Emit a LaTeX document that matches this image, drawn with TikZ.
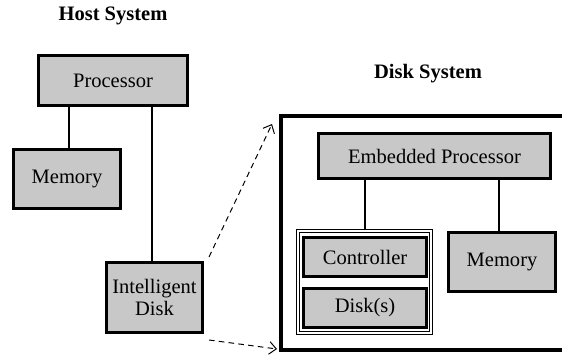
\documentclass[tikz,border=0pt]{standalone}
\usepackage{fontspec}
\setmainfont{Liberation Serif}
\usepackage{tikz}
\usetikzlibrary{arrows.meta}

\definecolor{boxgray}{RGB}{200,200,200}
\tikzset{
  box/.style={draw, line width=2pt, fill=boxgray, inner sep=0pt, align=center,
    font=\fontsize{14.6}{17}\selectfont},
  title/.style={font=\fontsize{14.6}{17}\selectfont\bfseries},
  wire/.style={line width=1pt},
  link/.style={line width=0.7pt, dash pattern=on 4pt off 3pt,
    -{Straight Barb[length=5pt,width=9pt]}}
}

\begin{document}
\begin{tikzpicture}
  \useasboundingbox (0,0) rectangle (14.05,8.85);
  % host side
  \node[title] (hosttitle) at (2.825,8.45) {Host System};
  \node[box, minimum width=3.725cm, minimum height=1.25cm] (proc) at (2.825,6.8375) {Processor};
  \node[box, minimum width=2.675cm, minimum height=1.475cm] (hostmem) at (1.675,4.375) {Memory};
  \node[box, minimum width=2.4cm, minimum height=1.75cm] (idisk) at (3.8625,1.4125) {Intelligent\\[-2pt]Disk};
  \draw[wire] (hostmem.north -| 1.725,0) -- (proc.south -| 1.725,0);
  \draw[wire] (idisk.north -| 3.8,0) -- (proc.south -| 3.8,0);

  % disk side
  \node[title] (disktitle) at (10.7,7.0) {Disk System};
  \draw[line width=2.8pt] (14.4,5.94) -- (7.02,5.94) -- (7.02,0.1) -- (14.4,0.1);
  \node[box, minimum width=5.8cm, minimum height=1.125cm] (emb) at (10.8625,4.95) {Embedded Processor};
  \node[draw, double, line width=0.8pt, double distance=1.2pt, fill=white,
    minimum width=3.325cm, minimum height=2.55cm] (ctrlgroup) at (9.1125,1.8) {};
  \node[box, minimum width=3.075cm, minimum height=0.975cm] (ctrl) at (9.125,2.425) {Controller};
  \node[box, minimum width=3.075cm, minimum height=0.975cm] (disks) at (9.125,1.15) {Disk(s)};
  \node[box, minimum width=2.675cm, minimum height=1.475cm] (diskmem) at (12.55,2.3) {Memory};
  \draw[wire] (ctrlgroup.north -| ctrl.north) -- (emb.south -| ctrl.north);
  \draw[wire] (diskmem.north -| 12.475,0) -- (emb.south -| 12.475,0);

  % zoom arrows
  \coordinate (upstart) at (5.225,2.425);
  \coordinate (upend) at (6.8,5.75);
  \coordinate (lowstart) at (5.225,0.35);
  \coordinate (lowend) at (6.925,0.125);
  \draw[link] (upstart) -- (upend);
  \draw[link] (lowstart) -- (lowend);
\end{tikzpicture}
\end{document}
